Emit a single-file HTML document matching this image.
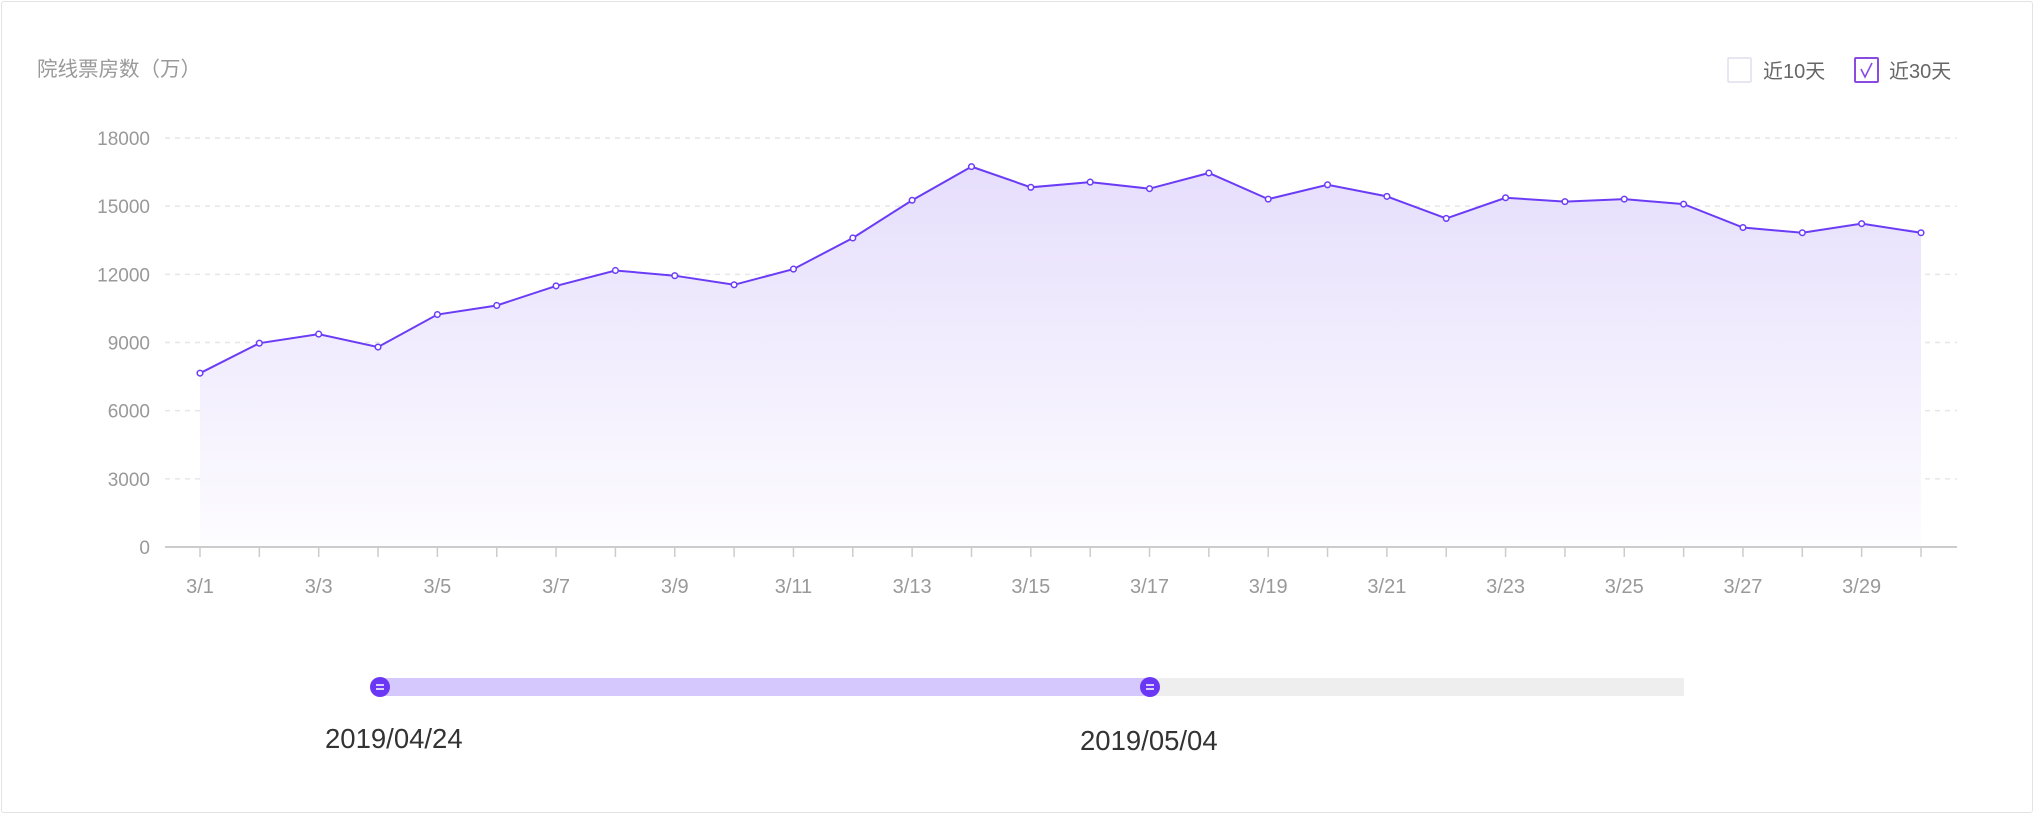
<!DOCTYPE html>
<html><head><meta charset="utf-8"><style>
html,body{margin:0;padding:0;background:#fff;}
body{width:2034px;height:814px;overflow:hidden;position:relative;font-family:"Liberation Sans","Noto Sans CJK SC",sans-serif;}
#frame{position:absolute;left:1px;top:1px;width:2030px;height:810px;border:1px solid #e3e3e3;border-radius:3px;}
svg{position:absolute;left:0;top:0;}
</style></head><body>
<div id="frame"></div>
<svg id="chart" width="2034" height="814">
<defs><linearGradient id="ag" x1="0" y1="0" x2="0" y2="1">
<stop offset="0" stop-color="#e6defc"/><stop offset="1" stop-color="#fdfcff"/></linearGradient></defs>
<text x="37" y="76" font-size="20.5" fill="#999">院线票房数（万）</text>
<g>
<rect x="1728" y="58" width="23" height="24" fill="#fff" stroke="#e2ddee" stroke-width="1.5" rx="1"/>
<text x="1763" y="78" font-size="20" fill="#666">近10天</text></g>
<g>
<rect x="1855" y="58" width="23" height="24" fill="#fff" stroke="#8a4be0" stroke-width="2" rx="1"/>
<path d="M1861 69 l4 8 l7 -14" fill="none" stroke="#8a4be0" stroke-width="1.6"/>
<text x="1889" y="78" font-size="20" fill="#666">近30天</text></g>
<g id="grid"></g><g id="area"></g><g id="xaxis"></g><g id="marks"></g>
<g>
<rect x="379" y="678" width="1305" height="18" fill="#eeeeee"/>
<rect x="379" y="678" width="770" height="18" fill="#d4c8fc"/>
<g><circle cx="380" cy="687" r="10" fill="#6a38f5"/><path d="M376 685h8M376 689h8" stroke="#fff" stroke-width="1.5"/></g>
<g><circle cx="1150" cy="687" r="10" fill="#6a38f5"/><path d="M1146 685h8M1146 689h8" stroke="#fff" stroke-width="1.5"/></g>
<text x="325" y="748" font-size="27.5" fill="#333">2019/04/24</text>
<text x="1080" y="750" font-size="27.5" fill="#333">2019/05/04</text>
</g>
</svg>
<script>
const categories=["3/1","3/2","3/3","3/4","3/5","3/6","3/7","3/8","3/9","3/10","3/11","3/12","3/13","3/14","3/15","3/16","3/17","3/18","3/19","3/20","3/21","3/22","3/23","3/24","3/25","3/26","3/27","3/28","3/29","3/30"];
const values=[7650,8970,9370,8800,10230,10630,11490,12170,11940,11540,12230,13600,15260,16740,15830,16060,15770,16460,15310,15940,15430,14460,15370,15200,15310,15090,14060,13830,14230,13830];
const yTicks=[0,3000,6000,9000,12000,15000,18000];
const NS="http://www.w3.org/2000/svg";
const x0=200,dx=(1921-200)/29,yb=547,yt=138,ymax=18000;
const X=i=>x0+i*dx, Y=v=>yb-(v/ymax)*(yb-yt);
function mk(t,a,p){const e=document.createElementNS(NS,t);for(const k in a)e.setAttribute(k,a[k]);p.appendChild(e);return e;}
const grid=document.getElementById('grid'),xa=document.getElementById('xaxis'),ar=document.getElementById('area'),mg=document.getElementById('marks');
yTicks.forEach(v=>{
 if(v>0){const l=mk('line',{x1:165,x2:1957,y1:Y(v),y2:Y(v),stroke:'#e6e6e6','stroke-width':1.5,'stroke-dasharray':'5 5'},grid);
 
 }
 const t=mk('text',{x:150,y:Y(v)+7,'font-size':19,fill:'#999','text-anchor':'end'},grid);t.textContent=v;
 
 
});
const ax=mk('line',{x1:165,x2:1957,y1:yb,y2:yb,stroke:'#ccc','stroke-width':2},xa);


categories.forEach((c,i)=>{
 mk('line',{x1:X(i),x2:X(i),y1:yb,y2:yb+10,stroke:'#ccc','stroke-width':1.5},xa);
 if(i%2===0){const t=mk('text',{x:X(i),y:593,'font-size':20,fill:'#999','text-anchor':'middle'},xa);t.textContent=c;
 
 }
});
let pts=values.map((v,i)=>X(i)+','+Y(v)).join(' ');
const a=mk('polygon',{points:X(0)+','+(yb-1)+' '+pts+' '+X(values.length-1)+','+(yb-1),fill:'url(#ag)'},ar);


const ln=mk('polyline',{points:pts,fill:'none',stroke:'#6b3cf6','stroke-width':2},mg);


values.forEach((v,i)=>{const c=mk('circle',{cx:X(i),cy:Y(v),r:2.8,fill:'#fff',stroke:'#6b3cf6','stroke-width':1.5},mg);
 
 });
</script>
</body></html>
